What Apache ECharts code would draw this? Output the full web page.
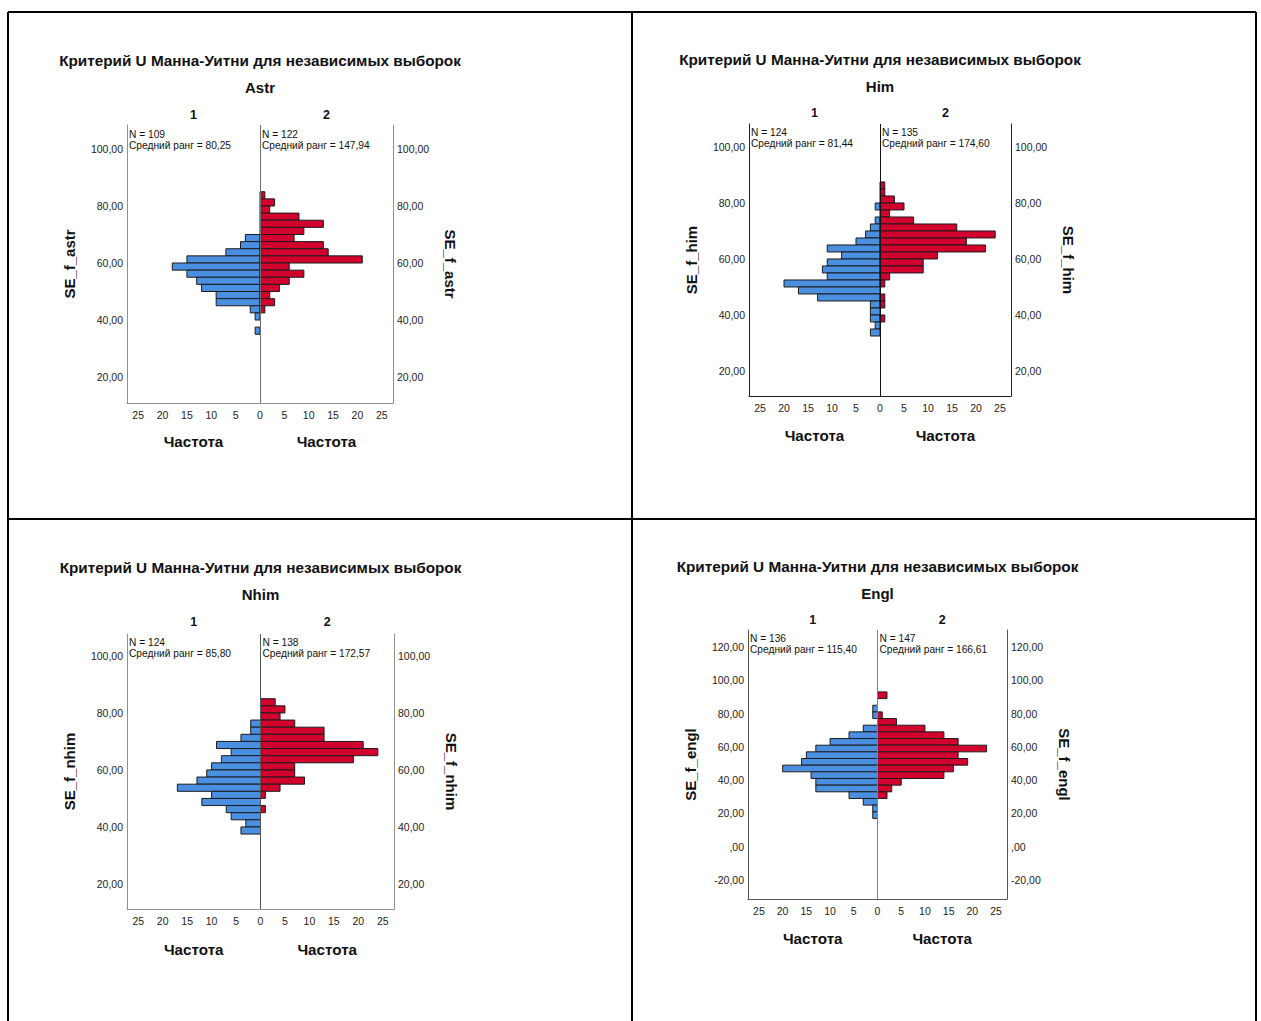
<!DOCTYPE html>
<html><head><meta charset="utf-8">
<script src="https://cdn.jsdelivr.net/npm/echarts@6/dist/echarts.min.js"></script>
<style>html,body{margin:0;padding:0;background:#fff}#c{width:1261px;height:1021px}</style>
</head><body><div id="c"></div>
<script>
// ---------- texts ----------
const titleText = 'Критерий U Манна-Уитни для независимых выборок';
const groupLabels = ['1', '2'];
const freqLabel = 'Частота';
const nLabel = 'N = ';
const rankLabel = 'Средний ранг = ';

// ---------- tick values ----------
const xTickValues = [-25, -20, -15, -10, -5, 0, 5, 10, 15, 20, 25];
const yTicksStd = [20, 40, 60, 80, 100];
const yTicksEngl = [-20, 0, 20, 40, 60, 80, 100, 120];

// ---------- Astr ----------
const astrBinStarts = [82.5, 80, 77.5, 75, 72.5, 70, 67.5, 65, 62.5, 60, 57.5, 55, 52.5, 50, 47.5, 45, 42.5, 40, 37.5, 35];
const astrGroup1 = [0, 0, 0, 0, 0, 0, 3, 4, 7, 15, 18, 15, 13, 12, 9, 9, 2, 1, 0, 1];
const astrGroup2 = [1, 3, 2, 8, 13, 9, 7, 13, 14, 21, 6, 9, 6, 4, 2, 3, 1, 0, 0, 0];
const astrN = [109, 122];
const astrMeanRank = [80.25, 147.94];

// ---------- Him ----------
const himBinStarts = [85, 82.5, 80, 77.5, 75, 72.5, 70, 67.5, 65, 62.5, 60, 57.5, 55, 52.5, 50, 47.5, 45, 42.5, 40, 37.5, 35, 32.5];
const himGroup1 = [0, 0, 0, 1, 0, 1, 2, 3, 5, 11, 8, 11, 12, 11, 20, 17, 13, 2, 2, 2, 1, 2];
const himGroup2 = [1, 1, 3, 5, 2, 7, 16, 24, 18, 22, 12, 9, 9, 2, 1, 0, 1, 1, 0, 1, 0, 0];
const himN = [124, 135];
const himMeanRank = [81.44, 174.60];

// ---------- Nhim ----------
const nhimBinStarts = [82.5, 80, 77.5, 75, 72.5, 70, 67.5, 65, 62.5, 60, 57.5, 55, 52.5, 50, 47.5, 45, 42.5, 40, 37.5];
const nhimGroup1 = [0, 0, 0, 2, 2, 4, 9, 6, 8, 10, 11, 13, 17, 10, 12, 7, 6, 3, 4];
const nhimGroup2 = [3, 5, 4, 7, 13, 13, 21, 24, 19, 7, 7, 9, 4, 1, 0, 1, 0, 0, 0];
const nhimN = [124, 138];
const nhimMeanRank = [85.80, 172.57];

// ---------- Engl ----------
const englBinStarts = [89, 85, 81, 77, 73, 69, 65, 61, 57, 53, 49, 45, 41, 37, 33, 29, 25, 21, 17];
const englGroup1 = [0, 0, 1, 1, 0, 3, 6, 10, 13, 15, 16, 20, 14, 13, 13, 6, 3, 1, 1];
const englGroup2 = [2, 0, 0, 1, 4, 10, 14, 17, 23, 17, 19, 16, 14, 5, 3, 2, 0, 0, 0];
const englN = [136, 147];
const englMeanRank = [115.40, 166.61];

// ---------- panels (data refs + layout) ----------
const panels = [
  { name: 'Astr', varName: 'SE_f_astr', starts: astrBinStarts, bw: 2.5, g1: astrGroup1, g2: astrGroup2, n: astrN, mr: astrMeanRank, yTicks: yTicksStd,
    box: { l: 127, t: 125, r: 393, b: 403 }, yMin: 10.9, yMax: 108.4, titleY: 60, subY: 87, grpY: 115, nY: 134, freqY: 441,
    frame: '#8f8f8f', center: '#6f6f6f' },
  { name: 'Him', varName: 'SE_f_him', starts: himBinStarts, bw: 2.5, g1: himGroup1, g2: himGroup2, n: himN, mr: himMeanRank, yTicks: yTicksStd,
    box: { l: 749, t: 124, r: 1011, b: 396 }, yMin: 11.07, yMax: 108.2, titleY: 59, subY: 86, grpY: 113, nY: 132, freqY: 435,
    frame: '#222', center: '#111' },
  { name: 'Nhim', varName: 'SE_f_nhim', starts: nhimBinStarts, bw: 2.5, g1: nhimGroup1, g2: nhimGroup2, n: nhimN, mr: nhimMeanRank, yTicks: yTicksStd,
    box: { l: 127, t: 634, r: 394, b: 909 }, yMin: 11.2, yMax: 107.7, titleY: 567, subY: 594, grpY: 622, nY: 642, freqY: 949,
    frame: '#8f8f8f', center: '#555' },
  { name: 'Engl', varName: 'SE_f_engl', starts: englBinStarts, bw: 4, g1: englGroup1, g2: englGroup2, n: englN, mr: englMeanRank, yTicks: yTicksEngl,
    box: { l: 748, t: 630, r: 1007, b: 899 }, yMin: -31.4, yMax: 130.2, titleY: 566, subY: 593, grpY: 620, nY: 638, freqY: 938,
    frame: '#555', center: '#7f7f7f' }
];

const FONT = '"Liberation Sans", Arial, sans-serif';
const BLUE = '#4b8fe0';
const RED = '#d2002c';

function fmtY(v) {
  if (v === 0) return ',00';
  return v.toFixed(2).replace('.', ',');
}
function fmtComma(v) { return v.toFixed(2).replace('.', ','); }

function makeRender(sign, color) {
  return function (params, api) {
    const lo = api.value(0), hi = api.value(1), cnt = api.value(2);
    if (!cnt) return null;
    const a = api.coord([0, hi]);
    const b = api.coord([sign * cnt, lo]);
    return {
      type: 'rect',
      shape: { x: Math.min(a[0], b[0]), y: Math.min(a[1], b[1]), width: Math.abs(b[0] - a[0]), height: Math.abs(b[1] - a[1]) },
      style: { fill: color, stroke: '#1c1c1c', lineWidth: 1 }
    };
  };
}

const grids = [], xAxes = [], yAxes = [], series = [], graphics = [];

// table borders
const lineStyle = { stroke: '#000', lineWidth: 2 };
[[8, 12, 1256, 12], [8, 12, 8, 1021], [632, 12, 632, 1021], [1256, 12, 1256, 1021], [8, 519, 1256, 519]].forEach(s => {
  graphics.push({ type: 'line', shape: { x1: s[0], y1: s[1], x2: s[2], y2: s[3] }, style: lineStyle, silent: true });
});

function txt(x, y, text, size, bold, align) {
  graphics.push({ type: 'text', x: x, y: y, silent: true,
    style: { text: text, fill: '#111', font: (bold ? 'bold ' : '') + size + 'px ' + FONT, align: align || 'center', verticalAlign: 'middle' } });
}

panels.forEach((p, i) => {
  const B = p.box;
  const cx = (B.l + B.r) / 2;
  const zeroX = cx;
  const leftC = (B.l + zeroX) / 2, rightC = (zeroX + B.r) / 2;
  grids.push({ left: B.l, top: B.t, width: B.r - B.l, height: B.b - B.t, containLabel: false });
  xAxes.push({
    type: 'value', gridIndex: i, min: -27.3, max: 27.3,
    axisLine: { show: true, onZero: false, lineStyle: { color: p.frame, width: 1 } },
    axisTick: { show: false }, splitLine: { show: false },
    axisLabel: { customValues: xTickValues, formatter: v => String(Math.abs(v)), fontSize: 10.5, fontFamily: FONT, color: '#222', margin: 6 }
  });
  const yCommon = {
    type: 'value', gridIndex: i, min: p.yMin, max: p.yMax,
    axisLine: { show: true, onZero: false, lineStyle: { color: p.frame, width: 1 } },
    axisTick: { show: false }, splitLine: { show: false },
    axisLabel: { customValues: p.yTicks, formatter: fmtY, fontSize: 10.5, fontFamily: FONT, color: '#222', margin: 4 },
    name: p.varName, nameLocation: 'middle', nameGap: 50,
    nameTextStyle: { fontSize: 15, fontWeight: 'bold', fontFamily: FONT, color: '#111' }
  };
  yAxes.push(Object.assign({}, yCommon, { position: 'left', nameRotate: 90 }));
  yAxes.push(Object.assign({}, yCommon, { position: 'right', nameRotate: -90 }));

  const d1 = p.starts.map((s, k) => [s, s + p.bw, p.g1[k]]);
  const d2 = p.starts.map((s, k) => [s, s + p.bw, p.g2[k]]);
  series.push({ type: 'custom', xAxisIndex: i, yAxisIndex: 2 * i, data: d1, renderItem: makeRender(-1, BLUE), encode: { x: 2, y: [0, 1] }, silent: true, animation: false });
  series.push({ type: 'custom', xAxisIndex: i, yAxisIndex: 2 * i, data: d2, renderItem: makeRender(1, RED), encode: { x: 2, y: [0, 1] }, silent: true, animation: false,
    markLine: { silent: true, symbol: ['none', 'none'], animation: false, label: { show: false },
      lineStyle: { color: p.center, width: 1, type: 'solid' }, data: [{ xAxis: 0 }] } });

  txt(cx, p.titleY, titleText, 15.3, true);
  txt(cx, p.subY, p.name, 15, true);
  txt(leftC, p.grpY, groupLabels[0], 12.5, true);
  txt(rightC, p.grpY, groupLabels[1], 12.5, true);
  txt(leftC, p.freqY, freqLabel, 15.2, true);
  txt(rightC, p.freqY, freqLabel, 15.2, true);
  txt(B.l + 2, p.nY, nLabel + p.n[0], 10.2, false, 'left');
  txt(B.l + 2, p.nY + 11, rankLabel + fmtComma(p.mr[0]), 10.2, false, 'left');
  txt(zeroX + 2, p.nY, nLabel + p.n[1], 10.2, false, 'left');
  txt(zeroX + 2, p.nY + 11, rankLabel + fmtComma(p.mr[1]), 10.2, false, 'left');
});

const chart = echarts.init(document.getElementById('c'), null, { renderer: 'svg' });
chart.setOption({
  backgroundColor: '#fff',
  animation: false,
  grid: grids, xAxis: xAxes, yAxis: yAxes, series: series,
  graphic: { elements: graphics }
});
</script></body></html>
